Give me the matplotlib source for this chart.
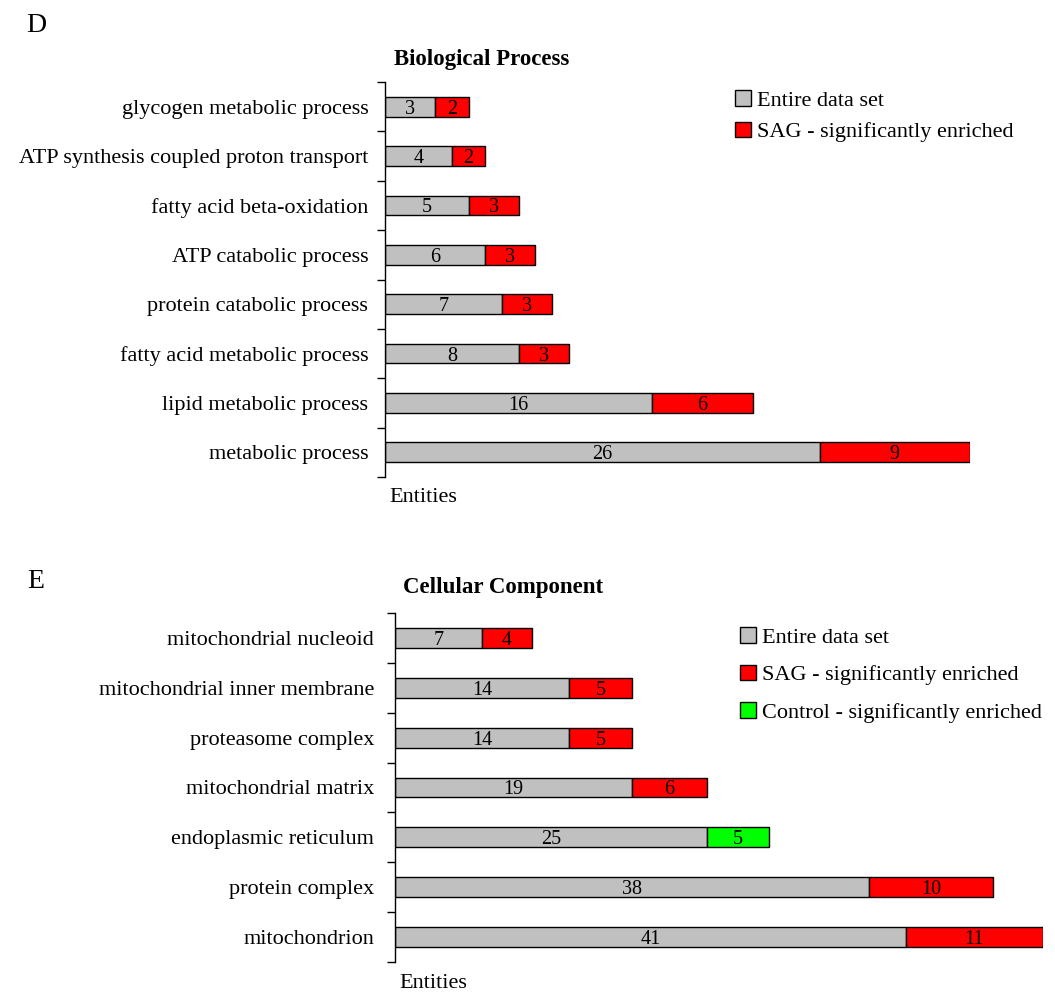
import matplotlib
matplotlib.use("Agg")
import matplotlib.pyplot as plt
from matplotlib.patches import Patch
import numpy as np

plt.rcParams['font.family'] = ['Liberation Serif', 'DejaVu Serif']

GRAY = "#c0c0c0"
RED = "#ff0000"
GREEN = "#00ff00"

# Biological Process (top to bottom)
bp_terms = ["glycogen metabolic process", "ATP synthesis coupled proton transport",
            "fatty acid beta-oxidation", "ATP catabolic process",
            "protein catabolic process", "fatty acid metabolic process",
            "lipid metabolic process", "metabolic process"]
bp_entire = [3, 4, 5, 6, 7, 8, 16, 26]
bp_enriched = [2, 2, 3, 3, 3, 3, 6, 9]
bp_group = ["SAG"] * 8

# Cellular Component (top to bottom)
cc_terms = ["mitochondrial nucleoid", "mitochondrial inner membrane",
            "proteasome complex", "mitochondrial matrix",
            "endoplasmic reticulum", "protein complex", "mitochondrion"]
cc_entire = [7, 14, 14, 19, 25, 38, 41]
cc_enriched = [4, 5, 5, 6, 5, 10, 11]
cc_group = ["SAG", "SAG", "SAG", "SAG", "Control", "SAG", "SAG"]

group_color = {"SAG": RED, "Control": GREEN}

W, H = 1055, 992
fig = plt.figure(figsize=(W / 100, H / 100), dpi=100)


def px_axes(left, top, right, bottom):
    return fig.add_axes([left / W, 1 - bottom / H, (right - left) / W, (bottom - top) / H])


def draw_panel(ax, terms, entire, enriched, groups, xmax, pad):
    n = len(terms)
    y = np.arange(n)
    ax.barh(y, entire, height=0.4, color=GRAY, edgecolor="black", linewidth=1)
    ax.barh(y, enriched, left=entire, height=0.4,
            color=[group_color[g] for g in groups], edgecolor="black", linewidth=1)
    for yi, a, b in zip(y, entire, enriched):
        ax.text(a / 2, yi, str(a), ha="center", va="center_baseline", fontsize=14.5)
        ax.text(a + b / 2, yi, str(b), ha="center", va="center_baseline", fontsize=14.5)
    ax.set_xlim(0, xmax)
    ax.set_ylim(n - 0.5, -0.5)
    for s in ["top", "right", "bottom"]:
        ax.spines[s].set_visible(False)
    ax.spines["left"].set_linewidth(1)
    ax.set_xticks([])
    ax.set_yticks(y)
    ax.set_yticklabels(terms, fontsize=16)
    ax.tick_params(axis="y", which="major", length=0, pad=pad)
    ax.set_yticks(np.arange(n + 1) - 0.5, minor=True)
    ax.tick_params(axis="y", which="minor", length=6, width=1, direction="out")


# panel D
axD = px_axes(385, 82, 970, 477)
draw_panel(axD, bp_terms, bp_entire, bp_enriched, bp_group, 35, 12)
fig.text(36 / W, 1 - 26 / H, "D", fontsize=20, ha="center", va="center")
fig.text(482 / W, 1 - 59 / H, "Biological Process", fontsize=16.5, fontweight="bold",
         ha="center", va="center")
fig.text(389 / W, 1 - 497 / H, "Entities", fontsize=16, ha="left", va="center")
axD.legend(handles=[Patch(facecolor=GRAY, edgecolor="black", label="Entire data set"),
                    Patch(facecolor=RED, edgecolor="black", label="SAG - significantly enriched")],
           loc="upper left", bbox_to_anchor=(715 / W, 1 - 70 / H),
           bbox_transform=fig.transFigure, frameon=False, fontsize=16,
           handlelength=0.7, handleheight=0.7, handletextpad=0.3, labelspacing=0.5)

# panel E
axE = px_axes(395, 613, 1043, 962)
draw_panel(axE, cc_terms, cc_entire, cc_enriched, cc_group, 52, 15)
fig.text(36 / W, 1 - 581 / H, "E", fontsize=20, ha="center", va="center")
fig.text(503 / W, 1 - 588 / H, "Cellular Component", fontsize=16.5, fontweight="bold",
         ha="center", va="center")
fig.text(399 / W, 1 - 983 / H, "Entities", fontsize=16, ha="left", va="center")
axE.legend(handles=[Patch(facecolor=GRAY, edgecolor="black", label="Entire data set"),
                    Patch(facecolor=RED, edgecolor="black", label="SAG - significantly enriched"),
                    Patch(facecolor=GREEN, edgecolor="black", label="Control - significantly enriched")],
           loc="upper left", bbox_to_anchor=(720 / W, 1 - 607 / H),
           bbox_transform=fig.transFigure, frameon=False, fontsize=16,
           handlelength=0.7, handleheight=0.7, handletextpad=0.3, labelspacing=0.77)

fig.savefig("out.png", dpi=100)
